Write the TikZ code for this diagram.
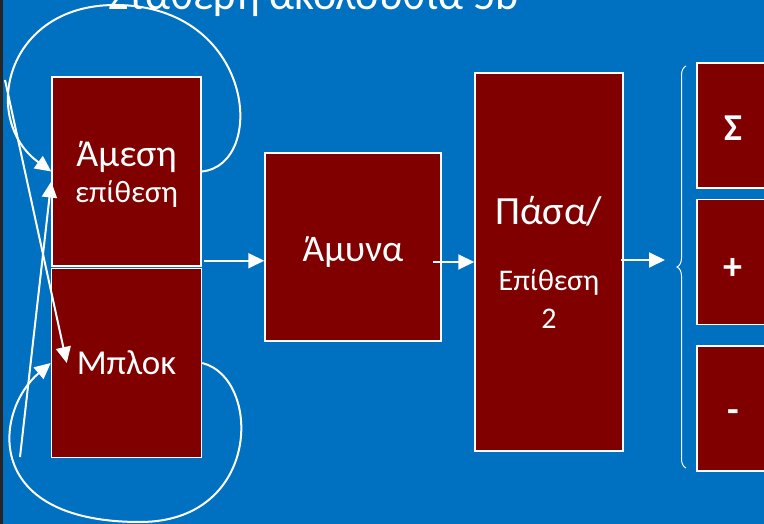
\documentclass[tikz,border=0pt]{standalone}
\usepackage{fontspec}
\setmainfont{Carlito}
\usetikzlibrary{arrows.meta,decorations.pathreplacing,positioning,calc}

\definecolor{slideblue}{RGB}{0,112,192}
\definecolor{boxred}{RGB}{128,0,0}

\newcommand{\zakk}[2]{\raisebox{-#1}[\height][\depth]{#2}}

\tikzset{
  blokbox/.style={draw=white, fill=boxred, line width=1.5pt, text=white, inner sep=0pt, align=center},
  signbox/.style={blokbox, minimum width=72pt, minimum height=125pt, font=\bfseries\fontsize{38}{44}\selectfont},
  pil/.style={white, line width=2pt, -{Triangle[length=16pt,width=15pt]}},
  sloef/.style={white, line width=2pt, -{Triangle[length=16pt,width=15pt]}}
}

\begin{document}
\begin{tikzpicture}[x=1pt,y=-1pt]
  \useasboundingbox (0,0) rectangle (764,524);
  \clip (0,0) rectangle (764,524);
  \fill[slideblue] (0,0) rectangle (764,524);
  \fill[black!85] (0,0) rectangle (3,524);

  % title, cut off at the top
  \node[anchor=base west, text=white, inner sep=0pt, font=\fontsize{44}{50}\selectfont] (titlos) at (108,10) {Σταθερή ακολουθία 5b};

  % boxes
  \node[blokbox, minimum width=149pt, minimum height=189pt, font=\fontsize{31}{36}\selectfont] (amesi) at (126.5,171.5)
    {\zakk{3pt}{\fontsize{38}{40}\selectfont Άμεση}\\\zakk{3pt}{επίθεση}};
  \node[blokbox, minimum width=150pt, minimum height=189pt, below=1pt of amesi, font=\fontsize{35}{40}\selectfont] (blok)
    {Μπλοκ};
  \node[blokbox, minimum width=176pt, minimum height=188pt, font=\fontsize{37.5}{40}\selectfont] (amyna) at (353,247)
    {\zakk{5pt}{Άμυνα}};
  \node[blokbox, minimum width=148pt, minimum height=378pt, font=\fontsize{30}{38}\selectfont] (pasa) at (549,262)
    {{\fontsize{40}{42}\selectfont Πάσα/}\\[28pt]Επίθεση\\2};

  \node[signbox] (sigma) at (733,125.5) {\zakk{3pt}{Σ}};
  \node[signbox, below=10pt of sigma] (plus) {\zakk{7pt}{+}};
  \node[signbox, below=20pt of plus] (minus) {\zakk{8pt}{-}};

  % brace
  \coordinate (braceBot) at (686,468);
  \coordinate (braceTop) at (686,66);
  \coordinate (braceIn) at (665,260);
  \draw[white, line width=1pt, decorate, decoration={brace, amplitude=9pt}] (braceBot) -- (braceTop);

  % arrows
  \draw[pil] ([xshift=2pt,yshift=6pt]amesi.south east) -- ([yshift=6pt]amesi.south east -| amyna.west);
  \draw[pil] ([xshift=-9pt]amyna.east |- pasa.west) -- (pasa.west);
  \draw[pil] ([xshift=-3pt,yshift=2pt]pasa.east) -- (braceIn);

  % loops
  \draw[sloef] (amesi.east) .. controls (268,165) and (255,5) .. (115,5)
    .. controls (5,5) and (-20,120) .. (amesi.west);
  \draw[sloef] (blok.east) .. controls (262,378) and (262,522) .. (140,522)
    .. controls (-20,522) and (-5,410) .. (blok.west);

  % crossing lines
  \coordinate (startA) at (5,80);
  \coordinate (startB) at (20,457);
  \draw[pil] (startA) -- ([xshift=16pt]blok.west);
  \draw[pil] (startB) -- ([yshift=-10pt]amesi.west);
\end{tikzpicture}
\end{document}
